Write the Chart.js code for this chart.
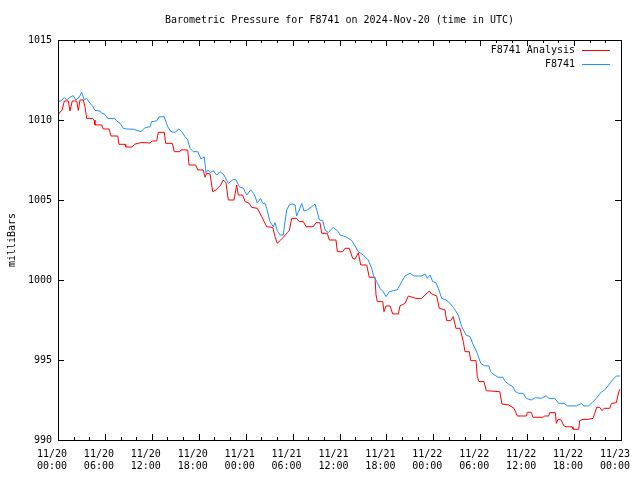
<!DOCTYPE html>
<html lang="en">
<head>
    <meta charset="UTF-8">
    <title>Barometric Pressure for F8741</title>
    <script src="https://cdn.jsdelivr.net/npm/chart.js"></script>
    <style>
        html, body { margin: 0; padding: 0; background: #fff; }
        canvas { display: block; }
    </style>
</head>
<body>
    <canvas id="pressione" width="640" height="480"></canvas>
    <script>
        // hours since 2024-11-20 00:00 UTC
        const analysisHours = [0.0, 0.38, 0.51, 0.81, 1.32, 1.53, 1.83, 2.39, 2.60, 2.81, 3.24, 3.45, 3.67, 4.39, 4.64, 4.73, 5.59, 5.79, 6.52, 6.78, 7.64, 7.80, 8.57, 8.66, 9.50, 9.76, 10.70, 11.77, 12.06, 12.62, 12.83, 13.59, 13.77, 14.62, 14.87, 15.60, 15.73, 16.59, 16.75, 17.61, 17.87, 18.58, 18.80, 19.02, 19.44, 19.78, 20.21, 20.81, 21.14, 21.48, 21.78, 22.51, 22.85, 23.06, 23.62, 23.92, 24.46, 24.77, 25.49, 26.05, 26.69, 27.46, 27.75, 28.05, 28.39, 28.81, 29.33, 29.58, 29.89, 30.52, 30.86, 31.37, 31.72, 32.65, 33.00, 33.51, 33.72, 34.44, 34.70, 35.55, 35.72, 36.41, 36.70, 37.25, 37.69, 37.98, 38.41, 38.71, 39.48, 39.81, 40.54, 40.67, 40.84, 41.53, 41.69, 41.95, 42.46, 42.80, 43.52, 43.74, 44.38, 44.80, 45.78, 46.51, 46.94, 47.48, 47.79, 48.43, 48.76, 49.49, 49.70, 50.22, 50.55, 50.89, 51.41, 51.83, 52.05, 52.60, 52.78, 53.46, 53.62, 53.84, 54.48, 54.77, 56.49, 56.78, 57.64, 58.32, 58.74, 59.89, 60.02, 60.53, 60.74, 62.03, 62.24, 62.75, 62.88, 63.60, 63.73, 63.94, 64.29, 64.71, 65.01, 65.74, 65.86, 66.59, 66.72, 67.14, 67.78, 68.42, 68.64, 68.89, 69.28, 69.57, 69.83, 70.56, 70.77, 71.40, 71.62, 71.84];
        const analysisValues = [1010.31, 1010.56, 1010.6, 1011.19, 1011.19, 1010.56, 1011.19, 1011.19, 1010.6, 1011.25, 1011.25, 1010.83, 1010.1, 1010.1, 1010.0, 1009.69, 1009.69, 1009.44, 1009.44, 1009.0, 1009.0, 1008.48, 1008.48, 1008.31, 1008.31, 1008.48, 1008.6, 1008.56, 1008.69, 1008.69, 1009.23, 1009.23, 1008.54, 1008.54, 1008.02, 1008.02, 1008.13, 1008.13, 1007.19, 1007.19, 1006.88, 1006.88, 1006.42, 1006.67, 1006.63, 1005.52, 1005.63, 1005.94, 1006.25, 1006.08, 1005.0, 1005.0, 1005.94, 1005.31, 1005.31, 1004.9, 1004.79, 1004.54, 1004.48, 1003.96, 1003.33, 1003.29, 1002.71, 1002.29, 1002.46, 1002.67, 1002.96, 1003.1, 1003.85, 1003.85, 1003.65, 1003.65, 1003.33, 1003.33, 1003.58, 1003.58, 1002.92, 1002.92, 1002.5, 1002.5, 1001.77, 1001.77, 1001.98, 1001.98, 1001.35, 1001.3, 1001.71, 1000.94, 1000.94, 1000.17, 1000.17, 999.06, 998.65, 998.65, 998.02, 998.38, 998.38, 997.88, 997.88, 998.38, 998.54, 999.0, 998.85, 998.85, 999.06, 999.31, 999.13, 999.0, 998.23, 998.13, 997.46, 997.46, 997.71, 996.98, 996.98, 996.15, 995.52, 995.52, 994.96, 994.96, 993.96, 993.65, 993.65, 993.08, 993.02, 992.25, 992.19, 991.98, 991.5, 991.5, 991.73, 991.73, 991.42, 991.42, 991.5, 991.5, 991.71, 991.71, 991.04, 991.29, 991.29, 990.88, 990.83, 990.83, 990.67, 990.67, 991.21, 991.29, 991.29, 991.35, 991.67, 992.04, 992.04, 991.83, 991.98, 991.98, 992.29, 992.33, 992.81, 993.17];

        const stationHours = [0.0, 0.26, 0.81, 1.11, 1.66, 1.96, 2.26, 2.69, 3.03, 3.36, 3.67, 4.09, 4.39, 4.73, 5.37, 5.59, 6.01, 6.36, 7.20, 7.51, 7.93, 8.35, 8.79, 9.63, 10.10, 10.62, 11.13, 11.77, 11.98, 12.62, 12.92, 13.59, 14.03, 14.45, 14.96, 15.48, 15.82, 16.24, 16.59, 16.88, 17.30, 17.87, 18.29, 18.71, 18.93, 19.22, 19.44, 19.86, 20.30, 20.72, 21.23, 21.78, 22.42, 22.76, 23.19, 23.70, 24.13, 24.64, 25.07, 25.49, 25.92, 26.18, 26.47, 26.69, 27.11, 27.53, 27.75, 28.05, 28.39, 28.81, 29.03, 29.25, 29.58, 30.02, 30.31, 30.52, 30.86, 31.17, 31.46, 31.88, 32.45, 32.87, 33.16, 33.42, 33.85, 34.15, 34.57, 34.88, 35.21, 35.85, 36.07, 36.49, 36.92, 37.35, 37.56, 37.98, 38.41, 39.05, 39.68, 40.12, 40.32, 40.76, 41.18, 41.60, 41.95, 42.37, 42.88, 43.39, 43.96, 44.38, 45.02, 45.53, 46.51, 46.94, 47.23, 47.58, 47.92, 48.34, 48.64, 49.07, 49.49, 49.92, 50.56, 51.19, 51.63, 52.18, 52.69, 53.11, 53.62, 54.06, 54.57, 55.08, 55.34, 55.63, 56.27, 56.91, 57.21, 57.77, 58.19, 58.49, 58.92, 59.47, 59.89, 60.53, 61.04, 61.81, 62.45, 62.76, 63.52, 64.04, 64.71, 65.13, 66.29, 66.93, 67.27, 67.87, 68.42, 68.85, 69.41, 69.92, 70.43, 70.98, 71.40, 71.87];
        const stationValues = [1011.25, 1011.15, 1011.4, 1011.25, 1011.46, 1011.52, 1011.25, 1011.4, 1011.73, 1011.25, 1011.35, 1011.04, 1010.9, 1010.6, 1010.56, 1010.42, 1010.35, 1010.1, 1010.1, 1009.94, 1009.8, 1009.48, 1009.44, 1009.42, 1009.35, 1009.27, 1009.52, 1009.58, 1009.9, 1009.94, 1010.2, 1010.2, 1009.58, 1009.27, 1009.23, 1009.44, 1009.27, 1008.96, 1008.75, 1008.23, 1008.02, 1008.02, 1007.56, 1007.7, 1006.71, 1006.88, 1006.71, 1006.83, 1006.56, 1006.77, 1006.56, 1006.04, 1006.29, 1006.25, 1005.83, 1005.73, 1005.31, 1005.63, 1005.38, 1004.83, 1005.1, 1004.79, 1004.79, 1004.48, 1003.65, 1003.33, 1003.58, 1003.08, 1002.81, 1002.81, 1003.65, 1004.38, 1004.69, 1004.75, 1004.69, 1004.0, 1004.38, 1004.79, 1004.31, 1004.38, 1004.58, 1004.75, 1004.27, 1003.75, 1003.71, 1003.13, 1002.96, 1003.13, 1003.29, 1003.02, 1002.81, 1002.75, 1002.67, 1002.54, 1002.46, 1002.13, 1001.77, 1001.56, 1001.25, 1000.73, 1000.31, 999.9, 999.48, 999.27, 998.96, 999.27, 999.33, 999.38, 999.9, 1000.25, 1000.42, 1000.25, 1000.25, 1000.38, 1000.1, 1000.31, 999.9, 999.83, 999.48, 998.85, 998.79, 998.65, 998.29, 997.81, 997.08, 996.56, 996.46, 995.94, 995.42, 994.79, 994.63, 994.63, 994.27, 994.13, 993.92, 993.92, 993.65, 993.44, 993.33, 993.02, 992.92, 992.92, 992.6, 992.5, 992.65, 992.6, 992.77, 992.6, 992.6, 992.29, 992.29, 992.13, 992.13, 992.29, 992.13, 992.13, 992.4, 992.6, 992.96, 993.13, 993.44, 993.79, 994.0, 994.0];

        // one label per 6 hours
        const tickDates = ['11/20', '11/20', '11/20', '11/20', '11/21', '11/21', '11/21', '11/21', '11/22', '11/22', '11/22', '11/22', '11/23'];
        const tickTimes = ['00:00', '06:00', '12:00', '18:00', '00:00', '06:00', '12:00', '18:00', '00:00', '06:00', '12:00', '18:00', '00:00'];

        const mono = "'DejaVu Sans Mono', monospace";

        function punti(ore, valori) {
            return ore.map((h, i) => ({ x: h, y: valori[i] }));
        }

        // box, inward ticks on all four sides and a gnuplot style key
        const cornice = {
            id: 'cornice',
            afterDraw(chart) {
                const { ctx, chartArea: a, scales } = chart;
                ctx.save();
                ctx.strokeStyle = '#000';
                ctx.lineWidth = 1;
                ctx.strokeRect(a.left + 0.5, a.top + 0.5, a.right - a.left, a.bottom - a.top);
                ctx.beginPath();
                scales.x.ticks.forEach(t => {
                    const px = Math.round(scales.x.getPixelForValue(t.value)) + 0.5;
                    const len = t.value % 6 === 0 ? 6 : 3;
                    ctx.moveTo(px, a.bottom); ctx.lineTo(px, a.bottom - len);
                    ctx.moveTo(px, a.top); ctx.lineTo(px, a.top + len);
                });
                scales.y.ticks.forEach(t => {
                    const py = Math.round(scales.y.getPixelForValue(t.value)) + 0.5;
                    ctx.moveTo(a.left, py); ctx.lineTo(a.left + 6, py);
                    ctx.moveTo(a.right, py); ctx.lineTo(a.right - 6, py);
                });
                ctx.stroke();

                ctx.font = '10px ' + mono;
                ctx.textAlign = 'right';
                ctx.textBaseline = 'middle';
                chart.data.datasets.forEach((ds, i) => {
                    const y = a.top + 10 + i * 14;
                    ctx.fillStyle = '#000';
                    ctx.fillText(ds.label, a.right - 46, y);
                    ctx.strokeStyle = ds.borderColor;
                    ctx.beginPath();
                    ctx.moveTo(a.right - 39, y + 0.5);
                    ctx.lineTo(a.right - 11, y + 0.5);
                    ctx.stroke();
                });
                ctx.restore();
            }
        };

        Chart.defaults.font.family = mono;
        Chart.defaults.font.size = 10;
        Chart.defaults.color = '#000';

        new Chart(document.getElementById('pressione'), {
            type: 'line',
            data: {
                datasets: [{
                    label: 'F8741 Analysis',
                    data: punti(analysisHours, analysisValues),
                    borderColor: '#ff0000',
                    borderWidth: 1,
                    pointRadius: 0,
                    tension: 0,
                    order: 1
                }, {
                    label: 'F8741',
                    data: punti(stationHours, stationValues),
                    borderColor: '#1e90ff',
                    borderWidth: 1,
                    pointRadius: 0,
                    tension: 0,
                    order: 0
                }]
            },
            options: {
                responsive: false,
                animation: false,
                devicePixelRatio: 1,
                layout: { padding: { top: 0, right: 19, bottom: 0, left: 0 } },
                plugins: {
                    legend: { display: false },
                    tooltip: { enabled: false },
                    title: {
                        display: true,
                        text: 'Barometric Pressure for F8741 on 2024-Nov-20 (time in UTC)',
                        fullSize: false,
                        font: { size: 10, weight: 'normal', lineHeight: 1.2 },
                        padding: { top: 14, bottom: 14 },
                        color: '#000'
                    }
                },
                scales: {
                    x: {
                        type: 'linear',
                        min: 0,
                        max: 72,
                        grid: { display: false, drawTicks: false },
                        border: { display: false },
                        afterFit: s => {
                            s.height = 40;
                            s.paddingLeft = 0;
                            s.paddingRight = 0;
                        },
                        ticks: {
                            stepSize: 2,
                            autoSkip: false,
                            maxRotation: 0,
                            padding: 8,
                            labelOffset: -6,
                            font: { size: 10, lineHeight: 1.2 },
                            callback: v => v % 6 === 0 ? [tickDates[v / 6], tickTimes[v / 6]] : ''
                        }
                    },
                    y: {
                        min: 990,
                        max: 1015,
                        grid: { display: false, drawTicks: false },
                        border: { display: false },
                        afterFit: s => { s.width = 58; },
                        ticks: { stepSize: 5, padding: 6, callback: v => String(v) },
                        title: {
                            display: true,
                            text: 'milliBars',
                            font: { size: 10 },
                            padding: { top: 6, bottom: 0 }
                        }
                    }
                }
            },
            plugins: [cornice]
        });
    </script>
</body>
</html>
